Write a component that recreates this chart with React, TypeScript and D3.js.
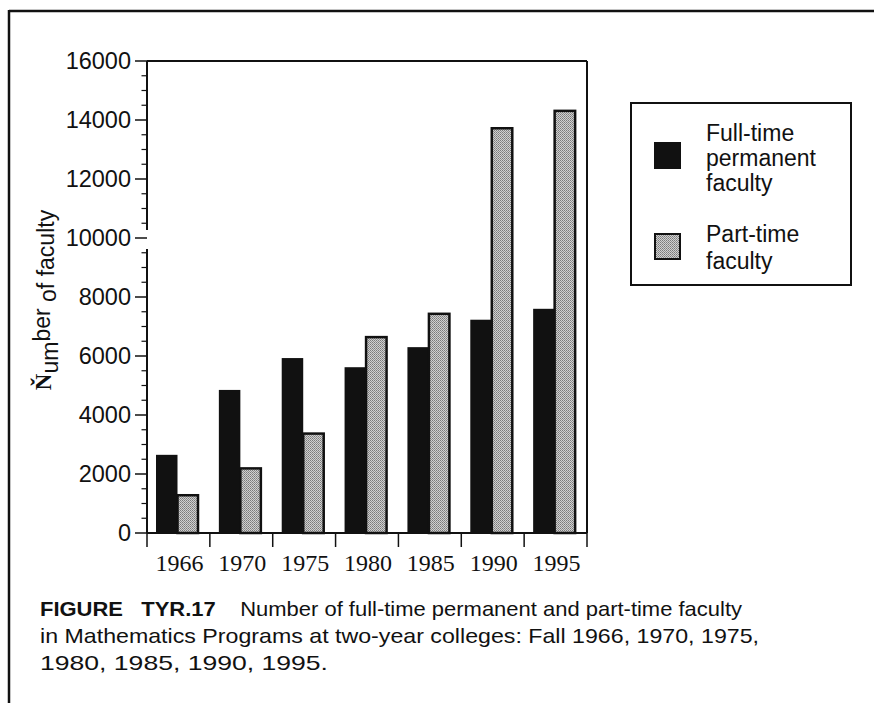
import React from "react";
import * as d3 from "d3";

const years = ["1966", "1970", "1975", "1980", "1985", "1990", "1995"];
const fullTime = [2650, 4850, 5930, 5620, 6300, 7230, 7600];
const partTime = [1280, 2190, 3370, 6640, 7430, 13720, 14310];
const yTicks = [0, 2000, 4000, 6000, 8000, 10000, 12000, 14000, 16000];
const seriesNames = ["Full-time permanent faculty", "Part-time faculty"];
const captionLines = [
  "Number of full-time permanent and part-time faculty",
  "in Mathematics Programs at two-year colleges: Fall 1966, 1970, 1975,",
  "1980, 1985, 1990, 1995.",
];

const W = 874;
const H = 703;
const left = 147;
const right = 587;
const top = 61;
const bottom = 533;

export default function App() {
  const x = d3.scaleBand<string>().domain(years).range([left, right]).paddingInner(0).paddingOuter(0);
  const bw = x.bandwidth();
  const inner = d3.scaleBand<number>().domain([0, 1]).range([9, 52]);
  const y = d3.scaleLinear().domain([0, 16000]).range([bottom, top]);
  const minor = d3.range(0, 16001, 500).filter((v) => v % 2000 !== 0);
  const sans = "'Liberation Sans', Arial, Helvetica, sans-serif";
  const serif = "'Liberation Serif', 'Times New Roman', serif";
  const breakTop = 230;
  const breakBottom = 249;

  return (
    <div style={{ position: "absolute", left: 0, top: 0 }}>
      <svg width={W} height={H} style={{ display: "block", background: "#fff" }}>
        <defs>
          <pattern id="dither" width="2" height="2" patternUnits="userSpaceOnUse">
            <rect width="2" height="2" fill="#d0d0d0" />
            <rect width="1" height="1" fill="#7a7a7a" />
            <rect x="1" y="1" width="1" height="1" fill="#909090" />
          </pattern>
        </defs>
        {/* outer frame: left and top */}
        <line x1={9} y1={11} x2={W} y2={11} stroke="#111" strokeWidth={2.5} />
        <line x1={9} y1={10} x2={9} y2={H} stroke="#111" strokeWidth={2.5} />

        {/* bars */}
        {years.map((yr, i) => (
          <g key={yr}>
            <rect
              x={(x(yr) as number) + (inner(0) as number)}
              y={y(fullTime[i])}
              width={inner.bandwidth()}
              height={bottom - y(fullTime[i])}
              fill="#111"
            />
            <rect
              x={(x(yr) as number) + (inner(1) as number)}
              y={y(partTime[i])}
              width={inner.bandwidth() - 1}
              height={bottom - y(partTime[i])}
              fill="url(#dither)"
              stroke="#111"
              strokeWidth={2.5}
            />
          </g>
        ))}

        {/* plot frame */}
        <line x1={left} y1={top} x2={right} y2={top} stroke="#111" strokeWidth={2} />
        <line x1={right} y1={top} x2={right} y2={bottom} stroke="#111" strokeWidth={2} />
        <line x1={left} y1={bottom} x2={right} y2={bottom} stroke="#111" strokeWidth={2} />
        <line x1={left} y1={top} x2={left} y2={breakTop} stroke="#111" strokeWidth={2} />
        <line x1={left} y1={breakBottom} x2={left} y2={bottom} stroke="#111" strokeWidth={2} />

        {/* y ticks */}
        {yTicks.map((t) => (
          <g key={t}>
            <line x1={135} x2={left} y1={y(t)} y2={y(t)} stroke="#111" strokeWidth={1.5} />
            <text
              x={131}
              y={y(t)}
              dy="0.36em"
              textAnchor="end"
              fontFamily={sans}
              fontSize={23.5}
              fill="#111"
            >
              {t}
            </text>
          </g>
        ))}
        {minor.map((t) => (
          <line key={t} x1={141.5} x2={left} y1={y(t)} y2={y(t)} stroke="#111" strokeWidth={1.2} />
        ))}

        {/* x ticks */}
        {years.concat(["end"]).map((yr, i) => (
          <line
            key={yr}
            x1={left + i * bw}
            x2={left + i * bw}
            y1={bottom}
            y2={547}
            stroke="#111"
            strokeWidth={1.5}
          />
        ))}
        {years.map((yr) => (
          <text
            key={yr}
            x={(x(yr) as number) + bw / 2 + 1}
            y={571}
            textAnchor="middle"
            fontFamily={serif}
            fontSize={24}
            fill="#111"
          >
            {yr}
          </text>
        ))}

        {/* y axis title */}
        <text
          transform="translate(54,300) rotate(-90)"
          textAnchor="middle"
          fontFamily={sans}
          fontSize={23}
          fill="#111"
        >
          <tspan fontFamily={serif} fontWeight="bold" dy={-3}>Ň</tspan>
          <tspan dy={7}>um</tspan>
          <tspan dy={-8}>ber </tspan>
          <tspan dy={6}>o</tspan>
          <tspan dy={-2}>f faculty</tspan>
        </text>

        {/* legend */}
        <rect x={631} y={103} width={220} height={182} fill="none" stroke="#111" strokeWidth={2} />
        <rect x={654} y={142} width={27} height={27} fill="#111" />
        <rect x={655} y={234} width={25} height={25} fill="url(#dither)" stroke="#111" strokeWidth={2} />
        <text fontFamily={sans} fontSize={23} fill="#111">
          <tspan x={706} y={141}>Full-time</tspan>
          <tspan x={706} y={166}>permanent</tspan>
          <tspan x={706} y={191}>faculty</tspan>
          <tspan x={706} y={242}>Part-time</tspan>
          <tspan x={706} y={269}>faculty</tspan>
        </text>

        {/* caption */}
        <text
          x={40}
          y={616}
          fontFamily={sans}
          fontSize={21}
          fill="#111"
          textLength={702}
          lengthAdjust="spacingAndGlyphs"
          style={{ whiteSpace: "pre" }}
        >
          <tspan fontWeight="bold">{"FIGURE   TYR.17"}</tspan>
          <tspan>{"    " + captionLines[0]}</tspan>
        </text>
        <text
          x={40}
          y={643}
          fontFamily={sans}
          fontSize={21}
          fill="#111"
          textLength={719}
          lengthAdjust="spacingAndGlyphs"
          style={{ whiteSpace: "pre" }}
        >
          {captionLines[1]}
        </text>
        <text
          x={40}
          y={670}
          fontFamily={sans}
          fontSize={21}
          fill="#111"
          textLength={288}
          lengthAdjust="spacingAndGlyphs"
        >
          {captionLines[2]}
        </text>
        <title>{seriesNames.join(" / ")}</title>
      </svg>
    </div>
  );
}
